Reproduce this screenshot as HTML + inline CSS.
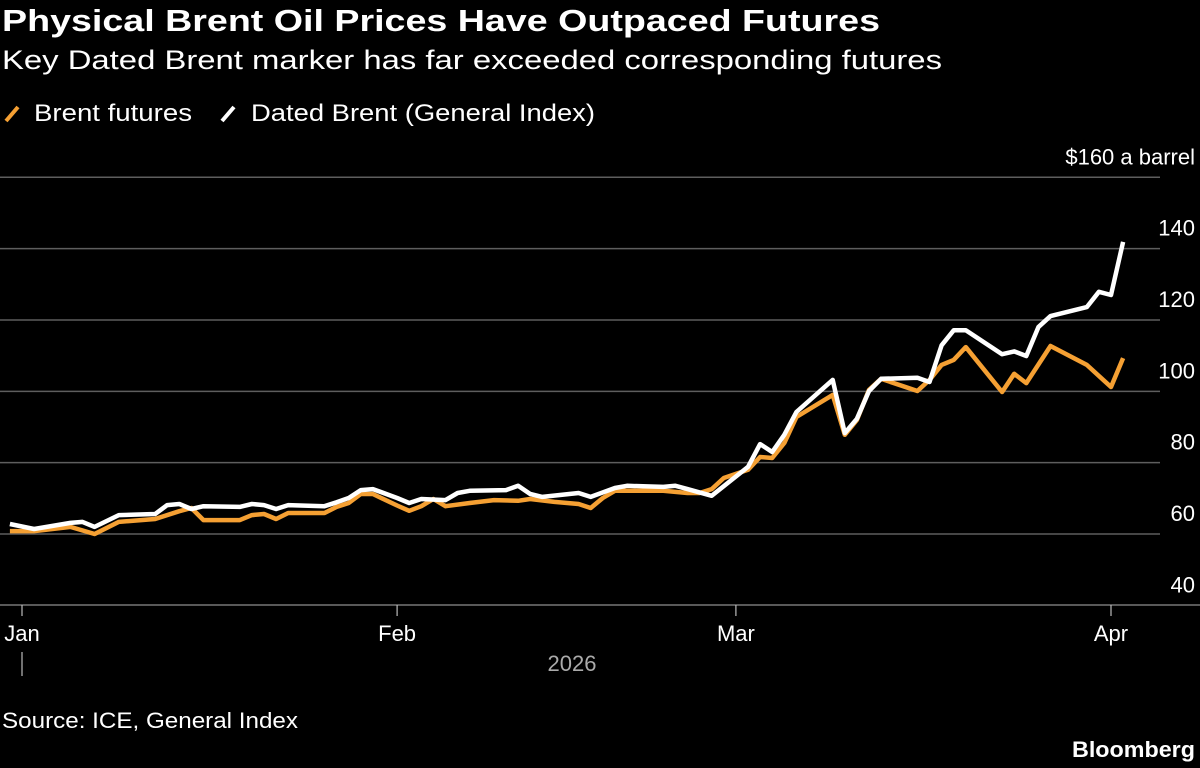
<!DOCTYPE html>
<html><head><meta charset="utf-8"><style>
html,body{margin:0;padding:0;background:#000;}
svg{display:block;font-family:"Liberation Sans",sans-serif;}
</style></head><body>
<svg id="chart" width="1200" height="768" viewBox="0 0 1200 768" xmlns="http://www.w3.org/2000/svg">
<rect width="1200" height="768" fill="#000"/>
<text x="2" y="31" fill="#fff" font-size="31" font-weight="bold" textLength="878" lengthAdjust="spacingAndGlyphs">Physical Brent Oil Prices Have Outpaced Futures</text>
<text x="2" y="69" fill="#fff" font-size="27" textLength="940" lengthAdjust="spacingAndGlyphs">Key Dated Brent marker has far exceeded corresponding futures</text>
<g>
<line x1="6" y1="121" x2="18" y2="107" stroke="#f5a033" stroke-width="4"/>
<text x="34" y="121" fill="#fff" font-size="24" textLength="158" lengthAdjust="spacingAndGlyphs">Brent futures</text>
<line x1="222" y1="121" x2="234" y2="107" stroke="#fff" stroke-width="4"/>
<text x="251" y="121" fill="#fff" font-size="24" textLength="344" lengthAdjust="spacingAndGlyphs">Dated Brent (General Index)</text>
</g>
<g id="grid"></g>
<g id="series"></g>
<text x="2" y="728" fill="#fff" font-size="22" textLength="296" lengthAdjust="spacingAndGlyphs">Source: ICE, General Index</text>
<text x="1195" y="757" fill="#fff" font-size="22" font-weight="bold" text-anchor="end" textLength="123" lengthAdjust="spacingAndGlyphs">Bloomberg</text>
</svg>
<script>
const yTicks = [40, 60, 80, 100, 120, 140, 160];
const monthLabels = ["Jan", "Feb", "Mar", "Apr"];
const monthDays = [0, 31, 59, 90];
const futuresDays = [-1,1,4,6,8,11,13,14,15,18,19,20,21,22,25,26,27,28,29,31,32,33,34,35,37,39,41,42,44,46,47,48,49,53,55,56,57,58,60,61,62,63,64,67,68,69,70,71,74,75,76,77,78,81,82,83,85,88,90,91];
const futuresValues = [60.8,60.8,62.0,60.0,63.4,64.2,66.4,67.3,63.9,63.9,65.3,65.6,64.2,65.9,65.9,67.6,68.7,71.2,71.2,68.0,66.5,67.8,69.8,67.8,68.7,69.5,69.3,69.8,69.0,68.4,67.3,70.1,72.1,72.1,71.5,71.5,72.6,75.7,78.0,81.6,81.3,85.5,92.8,99.0,87.8,92.0,100.4,103.5,100.1,103.2,107.4,108.8,112.4,99.8,104.9,102.3,112.7,107.4,101.2,109.3];
const datedDays = [-1,1,4,5,6,8,11,12,13,14,15,18,19,20,21,22,25,26,27,28,29,31,32,33,35,36,37,40,41,42,43,46,47,49,50,53,54,55,57,60,61,62,63,64,67,68,69,70,71,74,75,76,77,78,81,82,83,84,85,88,89,90,91];
const datedValues = [62.8,61.4,63.1,63.4,62.0,65.3,65.6,68.1,68.4,67.0,67.8,67.6,68.4,68.1,67.0,68.1,67.8,68.9,70.1,72.3,72.6,70.1,68.7,69.8,69.5,71.5,72.1,72.3,73.5,71.2,70.4,71.5,70.4,72.9,73.5,73.2,73.5,72.6,70.7,78.8,85.2,83.0,87.8,94.2,103.2,88.3,92.3,100.1,103.5,103.8,102.6,112.9,117.1,117.1,110.4,111.2,109.9,118.0,121.1,123.6,127.9,127.0,141.9];

const NS = "http://www.w3.org/2000/svg";
const xScale = d => 22 + d * 12.1;
const yScale = v => 534 - (v - 60) * 3.567;
const grid = document.getElementById('grid');
const series = document.getElementById('series');
function mk(tag, attrs, parent) {
  const e = document.createElementNS(NS, tag);
  for (const k in attrs) e.setAttribute(k, attrs[k]);
  parent.appendChild(e);
  return e;
}
yTicks.forEach((t, i) => {
  const y = yScale(t);
  if (t !== 40) {
    const l = mk('line', {x1: 0, x2: 1160, y1: y, y2: y, stroke: '#5e5e5e', 'stroke-width': 1.5}, grid);
    
    
  }
  const tx = mk('text', {x: 1195, y: y - 13, fill: '#fff', 'font-size': 22, 'text-anchor': 'end'}, grid);
  tx.textContent = (i === yTicks.length - 1 ? '$' + t + ' a barrel' : String(t));
  
  
});
const base = mk('line', {x1: 0, x2: 1200, y1: 605, y2: 605, stroke: '#777', 'stroke-width': 1.5}, grid);


monthLabels.forEach((m, i) => {
  const x = xScale(monthDays[i]);
  const tk = mk('line', {x1: x, x2: x, y1: 605, y2: 616, stroke: '#bbb', 'stroke-width': 1.2}, grid);
  
  
  const tx = mk('text', {x: x, y: 641, fill: '#fff', 'font-size': 22, 'text-anchor': 'middle'}, grid);
  tx.textContent = m;
  
  
});
const yt = mk('line', {x1: xScale(0), x2: xScale(0), y1: 652, y2: 676, stroke: '#bbb', 'stroke-width': 1.2}, grid);


const yl = mk('text', {x: 572, y: 671, fill: '#aaa', 'font-size': 22, 'text-anchor': 'middle'}, grid);
yl.textContent = '2026';



function line(days, vals, color, name) {
  const d = days.map((dd, i) => (i ? 'L' : 'M') + xScale(dd).toFixed(1) + ',' + yScale(vals[i]).toFixed(1)).join(' ');
  const p = mk('path', {d: d, fill: 'none', stroke: color, 'stroke-width': 4.5, 'stroke-linejoin': 'round'}, series);
  
  
}
line(futuresDays, futuresValues, '#f5a033', 'brent-futures-line');
line(datedDays, datedValues, '#ffffff', 'dated-brent-line');
</script>
</body></html>
